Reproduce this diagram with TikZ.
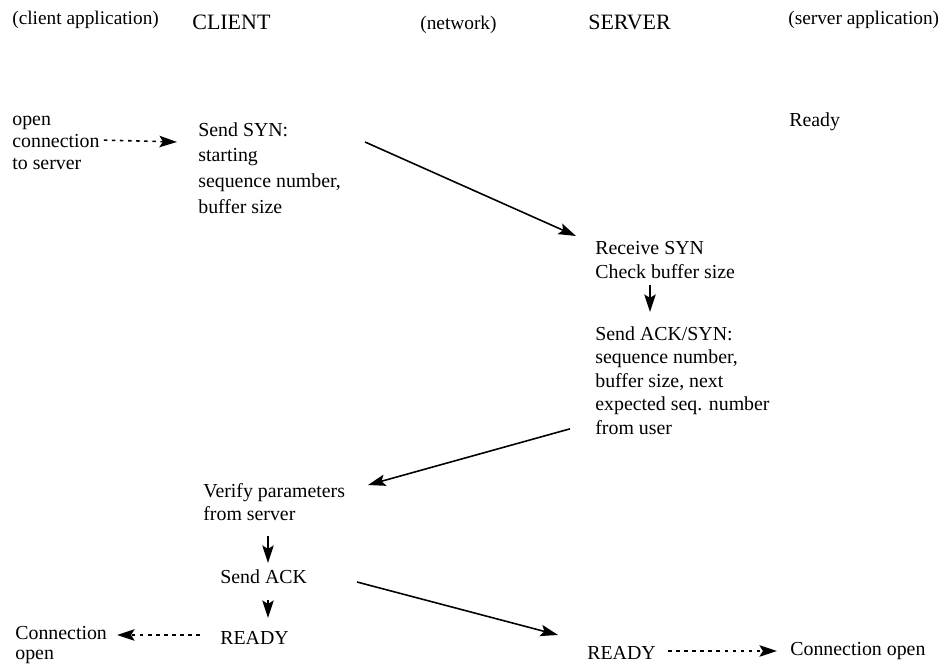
\documentclass[tikz,border=0pt]{standalone}
\usepackage{fontspec}
\setmainfont{Liberation Serif}
\usetikzlibrary{calc,arrows.meta}

\begin{document}
\begin{tikzpicture}[x=0.02cm,y=-0.02cm,
    txt/.style={inner sep=0pt,align=left,font=\rmfamily\fontsize{11.3}{13.4}\selectfont},
    head/.style={inner sep=0pt,font=\rmfamily\fontsize{12.5}{14}\selectfont},
    side/.style={inner sep=0pt,font=\rmfamily\fontsize{11}{13}\selectfont},
    msg/.style={line width=0.9pt,-{Stealth[length=10pt,width=6.5pt,inset=2pt]}},
    loc/.style={msg,dash pattern=on 2pt off 2.6pt}]
        \useasboundingbox (0,0) rectangle (948,665);

        \node[side,anchor=west] (capp) at (12,20) {(client application)};
        \node[head,anchor=west] (client) at (192,22) {CLIENT};
        \node[side,anchor=west] (netw) at (420,25) {(network)};
        \node[head,anchor=west] (server) at (588,22) {SERVER};
        \node[side,anchor=west] (sapp) at (788,20) {(server application)};

        \node[txt,anchor=north west,font=\rmfamily\fontsize{11.3}{12.5}\selectfont] (openc) at (12,116) {open\\connection\\to server};
        \node[txt,anchor=north west,font=\rmfamily\fontsize{11.3}{14.6}\selectfont] (ssyn) at (198,122) {Send SYN:\\starting\\sequence number,\\buffer size};
        \node[txt,anchor=west] (ready) at (789,122) {Ready};

        \node[txt,anchor=north west] (rsyn) at (595,241) {Receive SYN\\Check buffer size};
        \node[txt,anchor=north west] (sack) at (595,326) {Send ACK/SYN:\\sequence number,\\buffer size, next\\expected seq. number\\from user};

        \node[txt,anchor=north west] (verify) at (203,483) {Verify parameters\\from server};
        \node[txt,anchor=west] (cack) at (220,577) {Send ACK};
        \node[txt,anchor=west] (cready) at (220,638) {READY};
        \node[txt,anchor=north west,font=\rmfamily\fontsize{11.3}{11.4}\selectfont] (copen) at (15,626) {Connection\\open};

        \node[txt,anchor=west] (sready) at (587,653) {READY};
        \node[txt,anchor=west] (sopen) at (790,651) {Connection open};

        \draw[loc] ([shift={(4,-3)}]openc.east) -- ([shift={(-21,20)}]ssyn.north west);
        \draw[msg] ([shift={(167,20)}]ssyn.north west) -- ([shift={(-19,-5)}]rsyn.north west);
        \draw[msg] ([shift={(55,6)}]rsyn.south west) -- ([shift={(55,-14)}]sack.north west);
        \draw[msg] ([shift={(-25,-6)}]sack.south west) -- ([shift={(165,2)}]verify.north west);
        \draw[msg] ([shift={(65,15)}]verify.south west) -- ([shift={(48,-14)}]cack.west);
        \draw[msg] ([shift={(48,23)}]cack.west) -- ([shift={(48,-20)}]cready.west);
        \draw[msg] ([shift={(137,5)}]cack.west) -- ([shift={(-29,-18)}]sready.west);
        \draw[loc] ([shift={(-20,-3)}]cready.west) -- ([shift={(102,9)}]copen.north west);
        \draw[loc] ([shift={(81,-2)}]sready.west) -- ([shift={(-13,0)}]sopen.west);
      \end{tikzpicture}
\end{document}
